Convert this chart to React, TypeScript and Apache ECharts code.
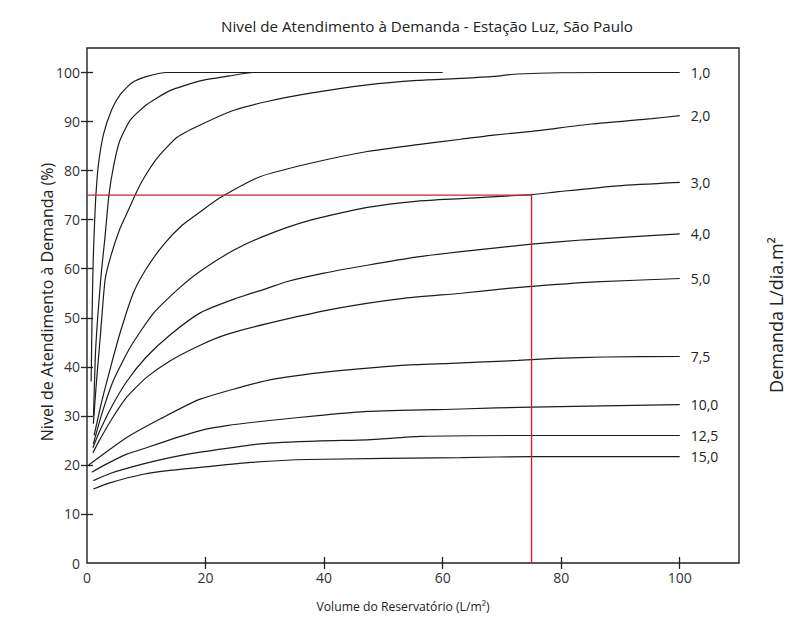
import React, { useEffect, useRef } from "react";
import * as echarts from "echarts";

const chartTitle = "Nivel de Atendimento à Demanda - Estação Luz, São Paulo";
const xAxisName = "Volume do Reservatório (L/m²)";
const yAxisName = "Nivel de Atendimento à Demanda (%)";
const rightAxisName = "Demanda L/dia.m²";

const xMin = 0;
const xMax = 110;
const xInterval = 20;
const xLabelValues = [0, 20, 40, 60, 80, 100];
const xTickValues = [20, 40, 60, 80, 100];
const yMin = 0;
const yMax = 105;
const yInterval = 10;
const yLabelValues = [0, 10, 20, 30, 40, 50, 60, 70, 80, 90, 100];
const yTickValues = [10, 20, 30, 40, 50, 60, 70, 80, 90, 100];

// curves (x = volume, y = atendimento %)
const curveA = [[0.7, 37], [0.85, 50], [1.05, 62], [1.3, 70], [1.5, 75], [1.9, 81], [2.8, 87.5], [4.2, 92.5], [5.6, 95.5], [7.6, 97.9], [10.1, 99.2], [13.5, 100], [35, 100]];
const curveB = [[1.1, 30], [1.4, 42], [1.8, 50], [2.4, 59], [3.0, 66], [3.7, 75], [4.5, 81], [5.5, 86], [7.3, 90.3], [10.1, 93.5], [14, 96.3], [19.1, 98.3], [24, 99.3], [28, 100], [60, 100]];
const curve10 = [[1.07, 28.4], [1.6, 37], [2.3, 47], [3.05, 57.7], [4, 62.5], [5.5, 68], [7, 72], [8.3, 75.5], [9.5, 78.3], [11.8, 82.5], [15.2, 86.8], [19.1, 89.3], [24.8, 92.3], [30.4, 94.1], [37.7, 95.8], [47.3, 97.5], [55.8, 98.4], [63.1, 98.8], [68.7, 99.2], [72.7, 99.7], [87, 100], [100, 100]];
const curve20 = [[1.2, 26], [2.5, 33], [4, 40], [5.6, 47], [7.8, 55], [10, 60], [13, 65], [16, 68.8], [19.1, 71.6], [22.5, 74.5], [29.3, 78.8], [37.7, 81.5], [47.3, 83.9], [55.8, 85.3], [63.1, 86.4], [68.2, 87.2], [75, 88], [85.1, 89.5], [95.3, 90.6], [100, 91.2]];
const curve30 = [[1.07, 24.3], [2.5, 30.4], [4.45, 37.2], [7.3, 44], [11.2, 50.9], [15.7, 56.2], [19.1, 59.5], [24.8, 63.8], [30.4, 66.9], [37.7, 69.9], [47.3, 72.5], [55.8, 73.8], [63.1, 74.3], [75, 75.1], [79.5, 75.7], [89.6, 76.9], [100, 77.6]];
const curve40 = [[1, 23.5], [2, 26.5], [4, 31.5], [6.7, 37], [10, 42], [14, 46.5], [19.1, 51], [24.8, 53.8], [30.4, 56], [33.8, 57.4], [40, 59.1], [47.3, 60.7], [55.8, 62.4], [63.1, 63.5], [75, 65], [84, 65.9], [100, 67.1]];
const curve50 = [[1, 22.5], [2, 24.8], [4, 29], [6.7, 33.8], [10, 37.8], [14, 41.2], [19.1, 44.4], [23.6, 46.6], [30.4, 48.8], [41.7, 51.8], [53, 53.9], [63.1, 55], [71, 56], [75, 56.4], [85.7, 57.3], [100, 58]];
const curve75 = [[0.3, 20], [2, 21.5], [4, 23.3], [6.7, 25.6], [12.4, 29.4], [19.1, 33.4], [30, 37.1], [39.4, 38.8], [53, 40.3], [61.4, 40.7], [72.7, 41.3], [78.9, 41.7], [87.3, 42], [100, 42.1]];
const curve100 = [[0.8, 18.5], [3, 20], [6.7, 22.2], [10, 23.5], [15.2, 25.6], [19.1, 27], [23.6, 28], [30.4, 29], [39.4, 30.1], [47.3, 30.9], [63.1, 31.4], [75, 31.8], [100, 32.3]];
const curve125 = [[1.07, 16.8], [4, 18.3], [9.5, 20.2], [14, 21.5], [19.1, 22.6], [29.3, 24.3], [39.4, 24.9], [47.3, 25.1], [56.3, 25.8], [75, 26], [100, 26]];
const curve150 = [[1.07, 15.1], [4, 16.4], [9.5, 18.1], [14, 18.9], [19.1, 19.5], [27.6, 20.5], [37.2, 21.1], [63.1, 21.5], [75, 21.7], [100, 21.7]];

const curveList = [curveA, curveB, curve10, curve20, curve30, curve40, curve50, curve75, curve100, curve125, curve150];
const curveLabels = ["", "", "1,0", "2,0", "3,0", "4,0", "5,0", "7,5", "10,0", "12,5", "15,0"];

const refVolume = 75;
const refLevel = 75;

const FONT = "'Open Sans', sans-serif";

export default function App() {
  const ref = useRef<HTMLDivElement>(null);
  useEffect(() => {
    if (!ref.current) return;
    const chart = echarts.init(ref.current, undefined, { renderer: "svg" });
    const tickStyle = { color: "#222", width: 1.3 };
    const lineSeries = curveList.map((c, i) => ({
      type: "line",
      name: curveLabels[i] || "curve" + i,
      data: c,
      showSymbol: false,
      smooth: 0.2,
      lineStyle: { color: "#1c1c1c", width: 1.2 },
      endLabel: {
        show: curveLabels[i] !== "",
        formatter: () => curveLabels[i],
        distance: 11,
        color: "#222",
        fontSize: 14,
        fontFamily: FONT,
      },
      z: 3,
    }));
    const option: any = {
      animation: false,
      backgroundColor: "#fff",
      title: {
        text: chartTitle,
        left: 422,
        top: 13,
        textAlign: "center",
        textStyle: { fontSize: 15.2, fontWeight: "normal", color: "#222", fontFamily: FONT },
      },
      graphic: [
        {
          type: "text",
          x: 403,
          y: 606,
          style: {
            text: xAxisName,
            fill: "#222",
            font: "12.2px 'Open Sans', sans-serif",
            textAlign: "center",
            textVerticalAlign: "middle",
          },
        },
        {
          type: "text",
          x: 47,
          y: 302,
          rotation: Math.PI / 2,
          style: {
            text: yAxisName,
            fill: "#222",
            font: "16px 'Open Sans', sans-serif",
            textAlign: "center",
            textVerticalAlign: "middle",
          },
        },
        {
          type: "text",
          x: 776,
          y: 315,
          rotation: Math.PI / 2,
          style: {
            text: rightAxisName,
            fill: "#222",
            font: "18px 'Open Sans', sans-serif",
            textAlign: "center",
            textVerticalAlign: "middle",
          },
        },
      ],
      grid: { left: 87, right: 48, top: 48, bottom: 66, show: true, borderColor: "#222", borderWidth: 1.4, backgroundColor: "transparent" },
      xAxis: [
        {
          type: "value",
          min: xMin,
          max: xMax,
          interval: xInterval,
          axisLine: { show: false },
          axisTick: { show: true, inside: true, length: 6, lineStyle: tickStyle, customValues: xTickValues },
          axisLabel: {
            fontSize: 14,
            color: "#333",
            fontFamily: FONT,
            margin: 7,
            customValues: xLabelValues,
            formatter: (v: number) => (v > 100 ? "" : String(v)),
          },
          splitLine: { show: false },
        },
        {
          type: "value",
          position: "top",
          min: xMin,
          max: xMax,
          interval: xInterval,
          axisLine: { show: false },
          axisTick: { show: true, inside: true, length: 6, lineStyle: tickStyle, customValues: xTickValues },
          axisLabel: { show: false },
          splitLine: { show: false },
        },
      ],
      yAxis: [
        {
          type: "value",
          min: yMin,
          max: yMax,
          interval: yInterval,
          axisLine: { show: false },
          axisTick: { show: true, inside: true, length: 6, lineStyle: tickStyle, customValues: yTickValues },
          axisLabel: {
            fontSize: 14,
            color: "#333",
            fontFamily: FONT,
            margin: 7,
            customValues: yLabelValues,
            formatter: (v: number) => (v > 100 ? "" : String(v)),
          },
          splitLine: { show: false },
        },
        {
          type: "value",
          position: "right",
          min: yMin,
          max: yMax,
          interval: yInterval,
          axisLine: { show: false },
          axisTick: { show: true, inside: true, length: 6, lineStyle: tickStyle, customValues: yTickValues },
          axisLabel: { show: false },
          splitLine: { show: false },
        },
      ],
      series: [
        ...lineSeries,
        {
          type: "line",
          name: "ref",
          data: [[0, refLevel], [refVolume, refLevel], [refVolume, 0]],
          showSymbol: false,
          lineStyle: { color: "#c8262e", width: 1.4 },
          z: 4,
        },
      ],
    };
    chart.setOption(option);
    return () => chart.dispose();
  }, []);
  return (
    <div
      ref={ref}
      style={{ position: "fixed", left: 0, top: 0, width: 787, height: 629, background: "#fff" }}
    />
  );
}
